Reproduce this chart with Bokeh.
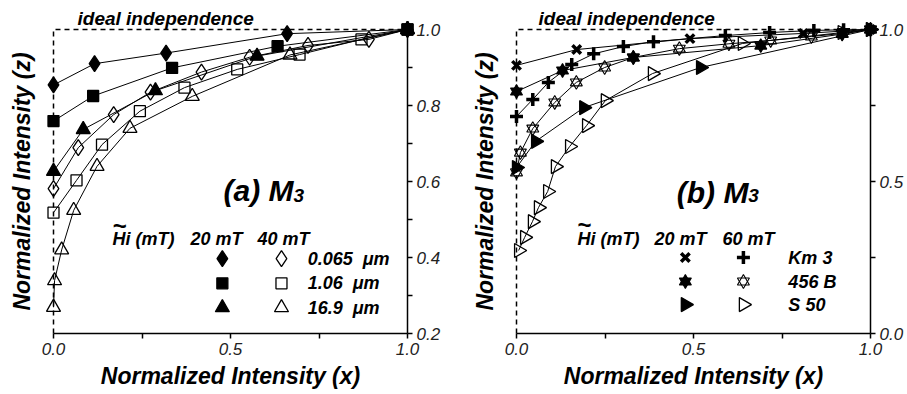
import numpy as np
from bokeh.plotting import figure
from bokeh.models import Range1d, LinearAxis, FixedTicker, Label, PrintfTickFormatter
from bokeh.layouts import row
from bokeh.embed import file_html
from bokeh.resources import INLINE

FONT = "Liberation Sans"

# ---------------- Panel (a) data: M3 vs particle size ----------------
a_d20_x = [0.0, 0.116, 0.318, 0.660, 1.0]
a_d20_y = [0.854, 0.910, 0.938, 0.989, 1.0]
a_s20_x = [0.0, 0.112, 0.335, 0.633, 1.0]
a_s20_y = [0.759, 0.825, 0.899, 0.956, 1.0]
a_t20_x = [0.0, 0.084, 0.288, 0.575, 1.0]
a_t20_y = [0.627, 0.737, 0.839, 0.930, 1.0]
a_d40_x = [0.0, 0.070, 0.170, 0.274, 0.418, 0.554, 0.719, 0.891, 1.0]
a_d40_y = [0.581, 0.689, 0.776, 0.835, 0.888, 0.927, 0.958, 0.974, 1.0]
a_s40_x = [0.0, 0.065, 0.137, 0.244, 0.370, 0.519, 0.695, 0.870, 1.0]
a_s40_y = [0.518, 0.603, 0.697, 0.785, 0.847, 0.895, 0.934, 0.974, 1.0]
a_t40_x = [0.0, 0.003, 0.023, 0.057, 0.123, 0.216, 0.392, 0.668, 1.0]
a_t40_y = [0.269, 0.339, 0.420, 0.524, 0.640, 0.740, 0.824, 0.933, 1.0]

# ---------------- Panel (b) data: M3 vs sample ----------------
b_k20_x = [0.0, 0.17, 0.49, 0.81, 1.0]
b_k20_y = [0.882, 0.934, 0.970, 0.987, 1.0]
b_k60_x = [0.0, 0.046, 0.090, 0.156, 0.218, 0.302, 0.387, 0.590, 0.715, 0.840, 0.924, 1.0]
b_k60_y = [0.714, 0.770, 0.826, 0.885, 0.920, 0.944, 0.960, 0.980, 0.990, 0.997, 0.999, 1.0]
b_b20_x = [0.0, 0.13, 0.33, 0.69, 0.92, 1.0]
b_b20_y = [0.796, 0.865, 0.908, 0.947, 0.985, 1.0]
b_b60_x = [0.0, 0.011, 0.046, 0.108, 0.169, 0.249, 0.33, 0.46, 0.60, 0.718, 0.833, 0.92, 1.0]
b_b60_y = [0.530, 0.595, 0.674, 0.760, 0.826, 0.875, 0.908, 0.937, 0.953, 0.964, 0.977, 0.987, 1.0]
b_s20_x = [0.0, 0.054, 0.19, 0.52, 1.0]
b_s20_y = [0.546, 0.632, 0.743, 0.875, 1.0]
b_s60_x = [0.006, 0.023, 0.045, 0.062, 0.088, 0.11, 0.15, 0.198, 0.251, 0.384, 0.638, 0.92, 1.0]
b_s60_y = [0.273, 0.316, 0.368, 0.414, 0.467, 0.549, 0.615, 0.684, 0.766, 0.855, 0.954, 0.990, 1.0]

# axes / ticks
x_ticks = [0.0, 0.25, 0.5, 0.75, 1.0]
a_y_ticks = [0.2, 0.3, 0.4, 0.5, 0.6, 0.7, 0.8, 0.9, 1.0]
b_y_ticks = [0.0, 0.25, 0.5, 0.75, 1.0]
a_y_range = (0.2, 1.0)
b_y_range = (0.0, 1.0)

# texts
x_title = "Normalized Intensity (x)"
y_title = "Normalized Intensity (z)"
ideal_text = "ideal independence"
a_sizes = ["0.065\u00a0 μm", "1.06\u00a0 μm", "16.9\u00a0 μm"]
b_samples = ["Km 3", "456 B", "S 50"]
a_fields = ["20 mT", "40 mT"]
b_fields = ["20 mT", "60 mT"]


def base_fig(width, left, right, y_range, y_ticks, y_blank, title_offset):
    p = figure(width=width, height=394, x_range=Range1d(0, 1), y_range=Range1d(*y_range),
               x_axis_location="below", y_axis_location="right",
               output_backend="svg", toolbar_location=None,
               min_border_left=left, min_border_right=right,
               min_border_top=29, min_border_bottom=61)
    p.outline_line_color = None
    p.grid.visible = False
    p.background_fill_color = "white"
    p.border_fill_color = "white"

    p.title.text = ideal_text
    p.title.align = "left"
    p.title.offset = title_offset
    p.title.standoff = 2
    p.title.text_font = FONT
    p.title.text_font_style = "bold italic"
    p.title.text_font_size = "19px"
    p.title.text_color = "black"

    xa = p.xaxis[0]
    xa.ticker = FixedTicker(ticks=x_ticks)
    xa.formatter = PrintfTickFormatter(format="%.1f")
    xa.major_label_overrides = {0.25: "", 0.75: ""}
    xa.axis_label = x_title
    ya = p.yaxis[0]
    ya.ticker = FixedTicker(ticks=y_ticks)
    ya.formatter = PrintfTickFormatter(format="%.1f")
    ya.major_label_overrides = {t: "" for t in y_blank}
    for ax in (xa, ya):
        ax.axis_line_color = "black"
        ax.axis_line_width = 1.5
        ax.major_tick_line_color = "black"
        ax.major_tick_line_width = 1.5
        ax.major_tick_in = 0
        ax.major_tick_out = 5
        ax.minor_tick_line_color = None
        ax.major_label_text_font = FONT
        ax.major_label_text_font_style = "italic"
        ax.major_label_text_font_size = "17px"
        ax.major_label_text_color = "#222222"
        ax.major_label_standoff = 4
    xa.axis_label_text_font = FONT
    xa.axis_label_text_font_style = "bold italic"
    xa.axis_label_text_font_size = "23px"
    xa.axis_label_text_color = "black"
    xa.axis_label_standoff = 5

    la = LinearAxis(ticker=FixedTicker(ticks=[]), axis_label=y_title)
    la.axis_line_color = None
    la.major_tick_line_color = None
    la.minor_tick_line_color = None
    la.major_label_text_font_size = "0px"
    la.major_label_standoff = 0
    la.major_tick_out = 0
    la.axis_label_standoff = 19
    la.axis_label_text_font = FONT
    la.axis_label_text_font_style = "bold italic"
    la.axis_label_text_font_size = "23px"
    la.axis_label_text_color = "black"
    p.add_layout(la, "left")

    # ideal independence reference (dashed)
    y0 = y_range[0]
    p.line([0, 0, 1], [y0, 1, 1], line_color="black", line_width=1.5,
           line_dash="5 4", level="overlay")
    return p


def txt(p, x, y, s, size="18px", align="left", base="alphabetic", style="bold italic"):
    p.add_layout(Label(x=x, y=y, text=s, text_font=FONT, text_font_size=size,
                       text_font_style=style, text_align=align, text_baseline=base,
                       text_color="black", level="overlay"))


def series(p, xs, ys, draw):
    p.line(xs, ys, line_color="black", line_width=1, level="overlay")
    draw(p, xs, ys)


def mk(marker, size, filled, angle=0.0, lw=1.3):
    def draw(p, xs, ys):
        p.scatter(xs, ys, marker=marker, size=size, angle=angle,
                  line_color="black", line_width=lw,
                  fill_color="black" if filled else "white",
                  fill_alpha=1.0 if filled else 0.0, level="overlay")
    return draw


def star(size, filled):
    def draw(p, xs, ys):
        for m in ("triangle", "inverted_triangle"):
            p.scatter(xs, ys, marker=m, size=size, line_color="black", line_width=1.1,
                      fill_color="black", fill_alpha=1.0 if filled else 0.0,
                      level="overlay")
    return draw


# ======================= Panel (a) =======================
pa = base_fig(453, 53, 46, a_y_range, a_y_ticks, [0.3, 0.5, 0.7, 0.9], 24)
a_styles = [
    (a_d20_x, a_d20_y, mk("diamond", 16, True)),
    (a_s20_x, a_s20_y, mk("square", 11, True)),
    (a_t20_x, a_t20_y, mk("triangle", 14, True)),
    (a_d40_x, a_d40_y, mk("diamond", 16, False)),
    (a_s40_x, a_s40_y, mk("square", 11, False)),
    (a_t40_x, a_t40_y, mk("triangle", 14, False)),
]
for xs, ys, d in a_styles:
    series(pa, xs, ys, d)

txt(pa, 0.678, 0.576, "(a) M", size="30px", align="right")
txt(pa, 0.678, 0.563, "3", size="19px")
txt(pa, 0.167, 0.45, "Hi (mT)")
txt(pa, 0.187, 0.485, "~", size="24px", align="center", style="bold")
txt(pa, 0.387, 0.45, a_fields[0])
txt(pa, 0.576, 0.45, a_fields[1])
a_rows = [0.397, 0.332, 0.268]
a_cols = [0.477, 0.644]
a_leg = ["diamond", "square", "triangle"]
a_leg_size = [16, 11, 14]
for i, m in enumerate(a_leg):
    mk(m, a_leg_size[i], True)(pa, [a_cols[0]], [a_rows[i]])
    mk(m, a_leg_size[i], False)(pa, [a_cols[1]], [a_rows[i]])
    txt(pa, 0.718, a_rows[i], a_sizes[i], base="middle")

# ======================= Panel (b) =======================
pb = base_fig(454, 63, 37, b_y_range, b_y_ticks, [0.25, 0.75], 22)
b_styles = [
    (b_k20_x, b_k20_y, mk("x", 12, True, lw=3.5)),
    (b_k60_x, b_k60_y, mk("cross", 13, True, lw=3.5)),
    (b_b20_x, b_b20_y, star(12, True)),
    (b_b60_x, b_b60_y, star(12, False)),
    (b_s20_x, b_s20_y, mk("triangle", 14, True, angle=-np.pi / 2)),
    (b_s60_x, b_s60_y, mk("triangle", 14, False, angle=-np.pi / 2)),
]
for xs, ys, d in b_styles:
    series(pb, xs, ys, d)

txt(pb, 0.655, 0.464, "(b) M", size="30px", align="right")
txt(pb, 0.655, 0.454, "3", size="19px")
txt(pb, 0.172, 0.3125, "Hi (mT)")
txt(pb, 0.192, 0.357, "~", size="24px", align="center", style="bold")
txt(pb, 0.39, 0.3125, b_fields[0])
txt(pb, 0.582, 0.3125, b_fields[1])
b_rows = [0.25, 0.171, 0.095]
b_cols = [0.477, 0.641]
b_leg = [
    (mk("x", 12, True, lw=3.5), mk("cross", 13, True, lw=3.5)),
    (star(12, True), star(12, False)),
    (mk("triangle", 14, True, angle=-np.pi / 2), mk("triangle", 14, False, angle=-np.pi / 2)),
]
for i, (d1, d2) in enumerate(b_leg):
    d1(pb, [b_cols[0]], [b_rows[i]])
    d2(pb, [b_cols[1]], [b_rows[i]])
    txt(pb, 0.768, b_rows[i], b_samples[i], base="middle")

layout = row(pa, pb)
open("out.html", "w").write(file_html(layout, INLINE))
